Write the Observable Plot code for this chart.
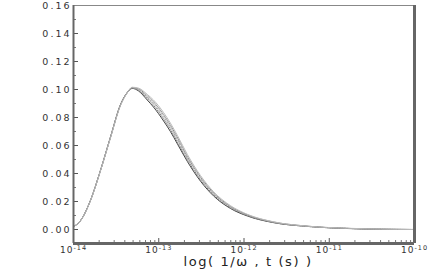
<!DOCTYPE html>
<html><head><meta charset="utf-8">
<script src="https://cdn.jsdelivr.net/npm/d3@7"></script>
<script src="https://cdn.jsdelivr.net/npm/@observablehq/plot@0.6"></script>
<style>body{margin:0;background:#fff}svg{display:block}</style>
</head><body><div id="chart"></div>
<script>
// time / inverse frequency (s)
const times = [1.0e-14, 1.21e-14, 1.58e-14, 2.07e-14, 2.72e-14, 3.56e-14, 4.19e-14, 4.89e-14, 5.78e-14, 7.33e-14, 8.67e-14, 1.14e-13, 1.37e-13, 1.66e-13, 2.17e-13, 3.09e-13, 4.39e-13, 6.95e-13, 1.10e-12, 2.22e-12, 5.56e-12, 1.64e-11, 3.99e-11, 1.0e-10];
const series1 = [0.002, 0.0064, 0.0208, 0.0422, 0.0663, 0.0893, 0.0972, 0.1008, 0.0990, 0.0925, 0.0875, 0.0775, 0.0700, 0.0610, 0.0485, 0.0345, 0.0240, 0.0150, 0.0096, 0.0049, 0.0022, 0.0007, 0.0002, 0.0];
const series2 = [0.002, 0.0064, 0.0207, 0.0421, 0.0661, 0.0891, 0.0971, 0.1010, 0.0995, 0.0935, 0.0888, 0.0790, 0.0715, 0.0625, 0.0498, 0.0355, 0.0248, 0.0155, 0.0099, 0.0050, 0.0022, 0.0008, 0.0002, 0.0];
const series3 = [0.002, 0.0064, 0.0207, 0.0420, 0.0660, 0.0890, 0.0970, 0.1012, 0.1000, 0.0945, 0.0900, 0.0805, 0.0730, 0.0640, 0.0510, 0.0365, 0.0255, 0.0160, 0.0102, 0.0052, 0.0023, 0.0008, 0.0002, 0.0];
const series4 = [0.002, 0.0063, 0.0206, 0.0419, 0.0658, 0.0888, 0.0969, 0.1014, 0.1005, 0.0955, 0.0912, 0.0820, 0.0745, 0.0655, 0.0522, 0.0375, 0.0262, 0.0165, 0.0105, 0.0054, 0.0024, 0.0008, 0.0002, 0.0];
const series5 = [0.002, 0.0063, 0.0205, 0.0418, 0.0656, 0.0886, 0.0968, 0.1016, 0.1010, 0.0965, 0.0925, 0.0835, 0.0760, 0.0670, 0.0535, 0.0385, 0.0270, 0.0170, 0.0108, 0.0055, 0.0024, 0.0009, 0.0003, 0.0];
const yMajorTicks = [0, 0.02, 0.04, 0.06, 0.08, 0.10, 0.12, 0.14, 0.16];
const yMinorTicks = [0.01, 0.03, 0.05, 0.07, 0.09, 0.11, 0.13, 0.15];
const xMajorTicks = [1e-14, 1e-13, 1e-12, 1e-11, 1e-10];
const xMinorMultipliers = [2, 3, 4, 5, 6, 7, 8, 9];
const xLabel = "log( 1/\u03c9 , t (s) )";

const xMinorTicks = xMajorTicks.slice(0, -1).flatMap(d => xMinorMultipliers.map(m => d * m));
const styles = [
  {data: series1, stroke: "#444", dash: null},
  {data: series2, stroke: "#777", dash: "1,1.5"},
  {data: series3, stroke: "#aaa", dash: "2,1.5"},
  {data: series4, stroke: "#888", dash: "1,1"},
  {data: series5, stroke: "#bbb", dash: null}
];
const frameW = 436 - 73 - 22, frameH = 273 - 5 - 30;

const chart = Plot.plot({
  width: 436, height: 273,
  marginLeft: 73, marginRight: 22, marginTop: 5, marginBottom: 30,
  style: {fontFamily: "DejaVu Sans, sans-serif", fontSize: "9.5px", color: "#333", background: "#fff"},
  x: {type: "log", domain: [1e-14, 1e-10]},
  y: {domain: [-0.01, 0.16]},
  marks: [
    ...styles.map(s => Plot.line(times.map((t, i) => ({t, v: s.data[i]})), {
      x: "t", y: "v", stroke: s.stroke, strokeWidth: 1, strokeDasharray: s.dash, curve: "monotone-x"
    })),
    Plot.tickY(yMajorTicks, {y: d => d, insetRight: frameW - 5, stroke: "#555"}),
    Plot.tickY(yMinorTicks, {y: d => d, insetRight: frameW - 3, stroke: "#777"}),
    Plot.tickX(xMajorTicks, {x: d => d, insetTop: frameH - 5, stroke: "#555"}),
    Plot.tickX(xMinorTicks, {x: d => d, insetTop: frameH - 3, stroke: "#777"}),
    Plot.ruleY([0.16], {stroke: "#888", strokeWidth: 1}),
    Plot.ruleX([1e-14], {stroke: "#666", strokeWidth: 2}),
    Plot.ruleX([1e-10], {stroke: "#666", strokeWidth: 3}),
    Plot.ruleY([-0.01], {stroke: "#666", strokeWidth: 3}),
    Plot.axisY({ticks: yMajorTicks, tickFormat: d3.format(".2f"), tickSize: 0, tickPadding: 2, label: null}),
    Plot.axisX({ticks: xMajorTicks, tickFormat: d => "10^" + Math.round(Math.log10(d)), tickSize: 0, tickPadding: 3, label: null}),
    Plot.text([xLabel], {text: d => d, frameAnchor: "bottom", dy: 22, dx: 4, fontSize: 13, fill: "#222"})
  ]
});
d3.select(chart).selectAll('g[aria-label="y-axis tick label"] text').style("letter-spacing", "2px");
d3.select(chart).selectAll('g[aria-label="x-axis tick label"] text').each(function() {
  const sel = d3.select(this);
  const [base, exp] = sel.text().split("^");
  sel.text(base).style("font-size", "9px").style("letter-spacing", "1px");
  sel.append("tspan").attr("dy", "-3").style("font-size", "6.5px").text(exp);
});
d3.select(chart).selectAll('g[aria-label="text"] text').style("letter-spacing", "1.6px");
document.getElementById("chart").append(chart);
</script></body></html>
